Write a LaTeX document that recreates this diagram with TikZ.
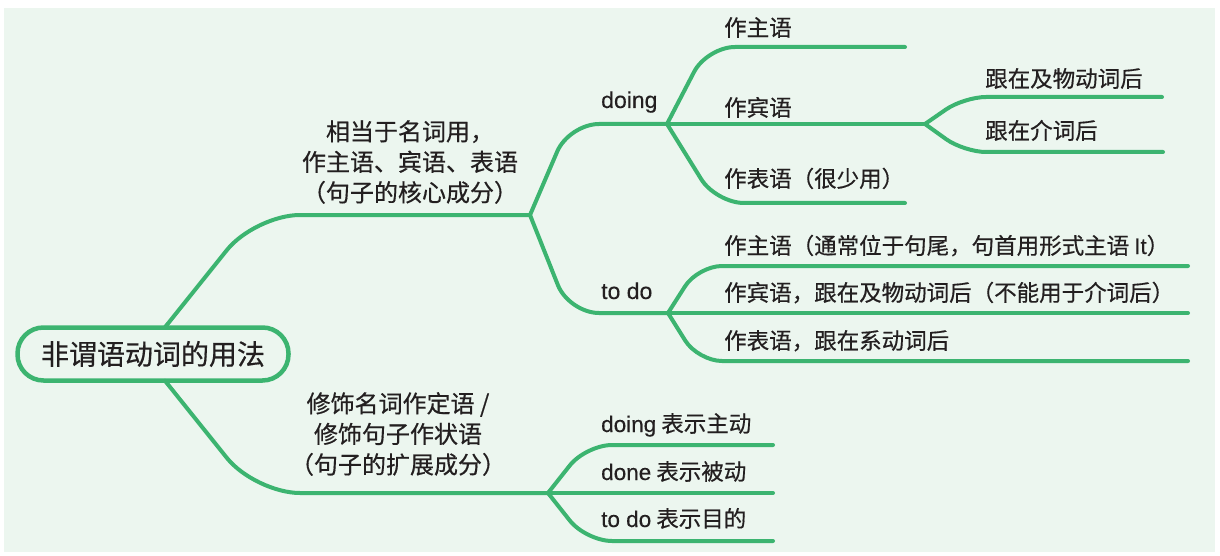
\documentclass[tikz,border=0pt]{standalone}
\usepackage{fontspec}
\setmainfont{Noto Sans CJK SC}[FakeBold=0.5]
\newfontfamily\lat{Liberation Sans}[FakeBold=0.3]
\definecolor{bgc}{RGB}{236,246,239}
\definecolor{lnc}{RGB}{60,180,112}
\definecolor{txc}{RGB}{35,31,32}
\begin{document}
\begin{tikzpicture}[x=1pt,y=-1pt,
 conn/.style={draw=lnc,line width=4pt,line cap=round,line join=round},
 leaf/.style={anchor=base west,inner sep=0pt,text=txc,font=\fontsize{22.5}{27}\selectfont},
 branch/.style={align=center,inner sep=0pt,text=txc,font=\fontsize{24}{30.5}\selectfont},
 rootbox/.style={draw=lnc,line width=4.5pt,rounded corners=26pt,minimum width=271pt,minimum height=53pt,inner sep=0pt,text=txc,font=\fontsize{28}{30}\selectfont}
]
\fill[white] (0,0) rectangle (1220,556);
\fill[bgc] (4,8) rectangle (1215,552);
\useasboundingbox (0,0) rectangle (1220,556);

% root
\node[rootbox] (root) at (153,354) {非谓语动词的用法};

% junctions and line ends
\coordinate (j1) at (530,215);
\coordinate (j2) at (548,493);
\coordinate (jd) at (667,124);
\coordinate (jt) at (668,313);
\coordinate (jb) at (925,124);
\coordinate (e1) at (905,47);
\coordinate (e3) at (905,203);
\coordinate (e4) at (1162,97);
\coordinate (e5) at (1163,152);
\coordinate (e6) at (1188,266);
\coordinate (e7) at (1188,313);
\coordinate (e8) at (1188,361);
\coordinate (e9) at (773,445);
\coordinate (e10) at (773,493);
\coordinate (e11) at (773,541);

% connectors
\draw[conn,rounded corners=45pt] ([xshift=12pt,yshift=-2pt]root.north) -- (255,215) -- (j1);
\draw[conn,rounded corners=45pt] ([xshift=12pt,yshift=2pt]root.south) -- (255,493) -- (j2);
\draw[conn,rounded corners=30pt] (j1) -- (569,124) -- (jd);
\draw[conn,rounded corners=30pt] (j1) -- (569,313) -- (jt);
\draw[conn,rounded corners=28pt] (jd) -- (707,47) -- (e1);
\draw[conn] (jd) -- (jb);
\draw[conn,rounded corners=28pt] (jd) -- (716,203) -- (e3);
\draw[conn,rounded corners=22pt] (jb) -- (964,97) -- (e4);
\draw[conn,rounded corners=22pt] (jb) -- (964,152) -- (e5);
\draw[conn,rounded corners=24pt] (jt) -- (698,266) -- (e6);
\draw[conn] (jt) -- (e7);
\draw[conn,rounded corners=24pt] (jt) -- (698,361) -- (e8);
\draw[conn,rounded corners=26pt] (j2) -- (586,445) -- (e9);
\draw[conn] (j2) -- (e10);
\draw[conn,rounded corners=26pt] (j2) -- (586,541) -- (e11);

% branch labels
\node[branch] (b1) at (410,162) {相当于名词用，\\作主语、宾语、表语\\（句子的核心成分）};
\node[branch] (b2) at (398,434) {修饰名词作定语 /\\修饰句子作状语\\（句子的扩展成分）};
\node[leaf,font=\lat\fontsize{23}{27}\selectfont] (doing) at (601,108) {doing};
\node[leaf,font=\lat\fontsize{23}{27}\selectfont] (todo) at (601,299) {to do};

% leaves
\node[leaf] (l1) at (724,36) {作主语};
\node[leaf] (l2) at (724,116) {作宾语};
\node[leaf] (l3) at (724,187) {作表语（很少用）};
\node[leaf] (l4) at (985,87) {跟在及物动词后};
\node[leaf] (l5) at (985,139) {跟在介词后};
\node[leaf] (l6) at (724,254) {作主语（通常位于句尾，句首用形式主语 {\lat It}）};
\node[leaf] (l7) at (724,301) {作宾语，跟在及物动词后（不能用于介词后）};
\node[leaf] (l8) at (724,349) {作表语，跟在系动词后};
\node[leaf] (l9) at (601,432) {{\lat doing} 表示主动};
\node[leaf] (l10) at (601,480) {{\lat done} 表示被动};
\node[leaf] (l11) at (601,527) {{\lat to do} 表示目的};
\end{tikzpicture}
\end{document}
